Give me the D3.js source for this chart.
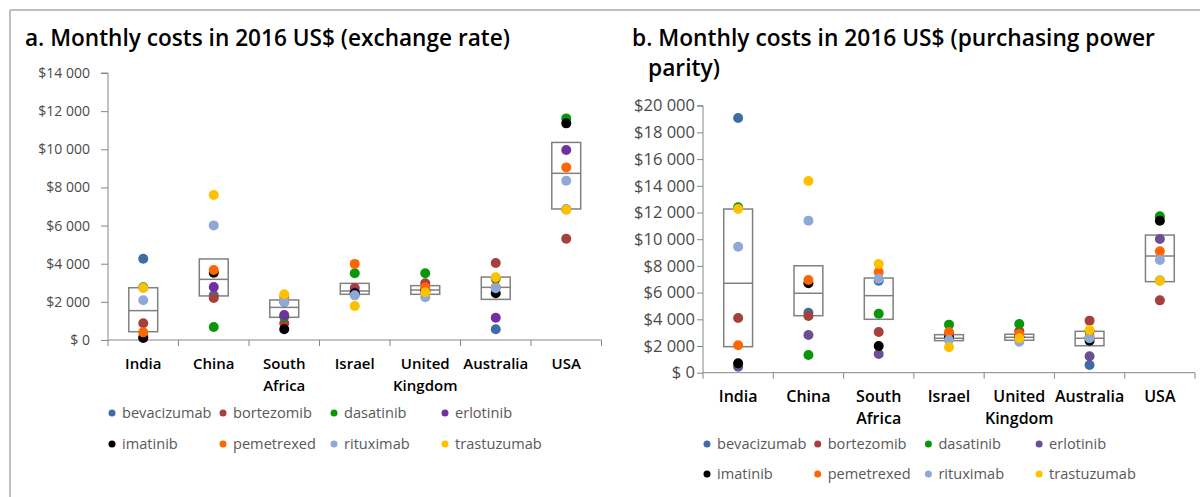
<!DOCTYPE html>
<html><head><meta charset="utf-8">
<script src="https://cdn.jsdelivr.net/npm/d3@7"></script>
<style>body{margin:0;background:#fff;} svg{display:block;font-family:'Open Sans',sans-serif;}</style>
</head><body><svg id="c" width="1200" height="497"></svg>
<script>
// ---------- data ----------
const countries = ["India","China","South Africa","Israel","United Kingdom","Australia","USA"];
const countryLines = [["India"],["China"],["South","Africa"],["Israel"],["United","Kingdom"],["Australia"],["USA"]];
const drugs = ["bevacizumab","bortezomib","dasatinib","erlotinib","imatinib","pemetrexed","rituximab","trastuzumab"];
const colorsA = ["#3e6ca6","#a5403d","#0a960a","#7030a0","#000000","#ff6600","#8ea9d5","#ffc000"];
const colorsB = ["#3e6ca6","#a5403d","#0a960a","#6b4f93","#000000","#ff6600","#8ea9d5","#ffc000"];

// Panel a: monthly cost, exchange rate (order = countries)
const aBevacizumab = [4260, 2340, 1990, 2400, 2600, 560, 6850];
const aBortezomib  = [880, 2200, 880, 2730, 2970, 4040, 5310];
const aDasatinib   = [2760, 680, 1220, 3500, 3500, 3220, 11620];
const aErlotinib   = [110, 2780, 1310, 2500, 2650, 1170, 9960];
const aImatinib    = [120, 3530, 560, 2450, 2550, 2450, 11360];
const aPemetrexed  = [400, 3670, 2250, 3990, 2760, 2760, 9050];
const aRituximab   = [2080, 6010, 2010, 2340, 2240, 2710, 8350];
const aTrastuzumab = [2730, 7600, 2400, 1780, 2500, 3290, 6830];
const aQ1     = [435, 2310, 1190, 2395, 2395, 2130, 6870];
const aMedian = [1540, 3180, 1710, 2570, 2620, 2760, 8740];
const aQ3     = [2740, 4250, 2100, 2970, 2850, 3300, 10360];

// Panel b: monthly cost, purchasing power parity
const bBevacizumab = [19080, 4490, 6890, 2600, 2700, 580, 6900];
const bBortezomib  = [4100, 4250, 3050, 2900, 3100, 3900, 5420];
const bDasatinib   = [12390, 1330, 4420, 3600, 3650, 3100, 11710];
const bErlotinib   = [450, 2820, 1400, 2700, 2700, 1230, 10010];
const bImatinib    = [700, 6700, 2000, 2600, 2650, 2400, 11390];
const bPemetrexed  = [2050, 6940, 7540, 3050, 2900, 2700, 9090];
const bRituximab   = [9440, 11390, 7040, 2450, 2320, 2580, 8440];
const bTrastuzumab = [12260, 14360, 8140, 1900, 2580, 3200, 6890];
const bQ1     = [1950, 4270, 4000, 2400, 2430, 2020, 6820];
const bMedian = [6700, 5950, 5770, 2580, 2650, 2580, 8740];
const bQ3     = [12260, 8010, 7090, 2850, 2880, 3100, 10310];

const yTicksA = [0,2000,4000,6000,8000,10000,12000,14000];
const yTicksB = [0,2000,4000,6000,8000,10000,12000,14000,16000,18000,20000];

const titleA = ["a. Monthly costs in 2016 US$ (exchange rate)"];
const titleB = ["b. Monthly costs in 2016 US$ (purchasing power", "parity)"];

// ---------- drawing ----------
const svg = d3.select("#c");

// frame lines
svg.append("line").attr("x1",10).attr("x2",1200).attr("y1",10).attr("y2",10)
  .attr("stroke","#bfbfbf").attr("stroke-width",2);
svg.append("line").attr("x1",10).attr("x2",10).attr("y1",10).attr("y2",497)
  .attr("stroke","#bfbfbf").attr("stroke-width",2);

function fmt(v){ return v===0 ? "$ 0" : "$" + d3.format(",")(v).replace(/,/g," "); }

function fitText(sel, target){
  const n = sel.node();
  const fs = parseFloat(sel.attr("font-size"));
  const w = n.getComputedTextLength();
  sel.attr("font-size", fs*target/w);
}

function panel(cfg){
  const g = svg.append("g");
  const x = d3.scaleBand().domain(countries).range([cfg.x0, cfg.x1]).padding(0);
  const y = d3.scaleLinear().domain([0, cfg.max]).range([cfg.yBot, cfg.yTop]);

  // title
  cfg.title.forEach((t,i)=>{
    const tt = g.append("text").attr("x", cfg.titleX[i]).attr("y", cfg.titleY[i])
      .attr("font-size",22).attr("font-weight",600).attr("fill","#000").text(t);
    if(i===0) fitText(tt, cfg.titleW);
    else tt.attr("font-size", g.select("text").attr("font-size"));
  });

  // y axis
  const ya = d3.axisLeft(y).tickValues(cfg.ticks).tickFormat(fmt)
    .tickSize(cfg.tickSize).tickPadding(cfg.tickPad);
  const yg = g.append("g").attr("transform",`translate(${cfg.x0},0)`).call(ya);
  yg.select(".domain").attr("stroke","#868686").attr("d",`M${-cfg.tickSize},${cfg.yTop}H0V${cfg.yBot}`);
  yg.selectAll(".tick line").attr("stroke","#868686");
  yg.selectAll(".tick text").attr("fill","#4a4a4a").attr("font-size",cfg.tickFont)
    .attr("font-family","'Open Sans',sans-serif");

  // x axis
  g.append("line").attr("x1",cfg.x0).attr("x2",cfg.x1).attr("y1",cfg.yBot).attr("y2",cfg.yBot)
    .attr("stroke","#868686");
  const edges = countries.map(c=>x(c)).concat([cfg.x1]);
  g.selectAll(".xt").data(edges).enter().append("line")
    .attr("x1",d=>d).attr("x2",d=>d).attr("y1",cfg.yBot).attr("y2",cfg.yBot+6)
    .attr("stroke","#868686");
  countries.forEach((c,i)=>{
    const t = g.append("text").attr("text-anchor","middle").attr("font-size",cfg.catFont)
      .attr("font-weight",600).attr("fill","#000");
    countryLines[i].forEach((ln,j)=>{
      t.append("tspan").attr("x", x(c)+x.bandwidth()/2).attr("y", cfg.labelY + j*cfg.labelDy).text(ln);
    });
  });

  // boxes
  const bw = x.bandwidth()*0.41;
  countries.forEach((c,i)=>{
    const cx = x(c)+x.bandwidth()/2;
    g.append("rect").attr("x",cx-bw/2).attr("width",bw)
      .attr("y",y(cfg.q3[i])).attr("height",y(cfg.q1[i])-y(cfg.q3[i]))
      .attr("fill","none").attr("stroke","#808080").attr("stroke-width",1.5);
    g.append("line").attr("x1",cx-bw/2).attr("x2",cx+bw/2)
      .attr("y1",y(cfg.med[i])).attr("y2",y(cfg.med[i]))
      .attr("stroke","#808080").attr("stroke-width",1.5);
  });

  // dots
  cfg.series.forEach((vals,k)=>{
    g.selectAll(null).data(vals).enter().append("circle")
      .attr("cx",(d,i)=>x(countries[i])+x.bandwidth()/2)
      .attr("cy",d=>y(d)).attr("r",5)
      .attr("fill",cfg.colors[k]);
  });

  // legend
  drugs.forEach((d,k)=>{
    const col = k%4, row = Math.floor(k/4);
    const lx = cfg.legX + col*cfg.legDx, ly = cfg.legY[row];
    g.append("circle").attr("cx",lx).attr("cy",ly).attr("r",3.5).attr("fill",cfg.colors[k]);
    g.append("text").attr("x",lx+10).attr("y",ly+5).attr("font-size",14.6)
      .attr("fill","#595959").text(d);
  });
}

panel({
  x0:108, x1:601.5, yTop:73, yBot:340, max:14000, ticks:yTicksA,
  tickSize:7, tickPad:11, tickFont:14, catFont:15,
  labelY:369, labelDy:22,
  title:titleA, titleX:[25], titleY:[46], titleW:485,
  q1:aQ1, med:aMedian, q3:aQ3,
  series:[aBevacizumab,aBortezomib,aDasatinib,aErlotinib,aImatinib,aPemetrexed,aRituximab,aTrastuzumab],
  colors:colorsA, legX:112, legDx:111, legY:[413,444]
});
panel({
  x0:703, x1:1195, yTop:105.7, yBot:372.7, max:20000, ticks:yTicksB,
  tickSize:6, tickPad:2, tickFont:16.5, catFont:16,
  labelY:402, labelDy:22,
  title:titleB, titleX:[632,648], titleY:[46,76], titleW:523,
  q1:bQ1, med:bMedian, q3:bQ3,
  series:[bBevacizumab,bBortezomib,bDasatinib,bErlotinib,bImatinib,bPemetrexed,bRituximab,bTrastuzumab],
  colors:colorsB, legX:707, legDx:110.7, legY:[444,474]
});
</script></body></html>
